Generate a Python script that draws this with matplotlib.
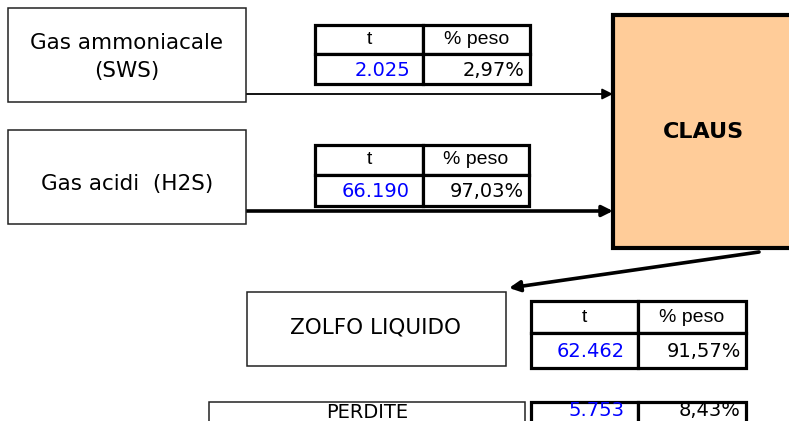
import matplotlib.pyplot as plt
from matplotlib.patches import Rectangle

# feed streams into the Claus unit
feed_names = ["Gas ammoniacale\n(SWS)", "Gas acidi  (H2S)"]
feed_tonnes = [2025, 66190]
feed_pct = [2.97, 97.03]

# products out of the Claus unit
out_names = ["ZOLFO LIQUIDO", "PERDITE"]
out_tonnes = [62462, 5753]
out_pct = [91.57, 8.43]

col_heads = ["t", "% peso"]


def fmt_t(v):
    return f"{v:,}".replace(",", ".")


def fmt_pct(p):
    return f"{p:.2f}%".replace(".", ",")


def box(ax, x0, y0, x1, y1, lw=1.1, ec="#222222", fc="white", z=2):
    ax.add_patch(Rectangle((x0, y0), x1 - x0, y1 - y0, lw=lw, ec=ec, fc=fc, zorder=z))


def table(ax, x0, xm, x1, rows_y, values, header=True, yval=None):
    # rows_y: list of row edges top -> bottom
    for i in range(len(rows_y) - 1):
        box(ax, x0, rows_y[i], xm, rows_y[i + 1], lw=2.3, ec="black", z=3)
        box(ax, xm, rows_y[i], x1, rows_y[i + 1], lw=2.3, ec="black", z=3)
    r = 0
    if header:
        yc = (rows_y[0] + rows_y[1]) / 2
        ax.text((x0 + xm) / 2, yc, col_heads[0], ha="center", va="center",
                fontsize=14, family="Liberation Sans", zorder=4)
        ax.text((xm + x1) / 2, yc, col_heads[1], ha="center", va="center",
                fontsize=14, family="Liberation Sans", zorder=4)
        r = 1
    yc = (rows_y[r] + rows_y[r + 1]) / 2 + 1 if yval is None else yval
    ax.text(xm - 13, yc, fmt_t(values[0]), ha="right", va="center",
            fontsize=14, color="#0000FF", zorder=4)
    ax.text(x1 - 5, yc, fmt_pct(values[1]), ha="right", va="center",
            fontsize=14, zorder=4)


fig = plt.figure(figsize=(7.89, 4.21), dpi=100)
ax = fig.add_axes([0, 0, 1, 1])
ax.set_xlim(0, 789)
ax.set_ylim(421, 0)
ax.axis("off")

# CLAUS unit
box(ax, 613, 15, 800, 248, lw=3.0, ec="black", fc="#FFCC99", z=2)
ax.text(703, 132, "CLAUS", ha="center", va="center", fontsize=16,
        fontweight="bold", zorder=4)

# feed boxes
box(ax, 8, 8, 246, 102)
ax.text(127, 57, feed_names[0], ha="center", va="center", fontsize=15.5,
        linespacing=1.45, zorder=4)
box(ax, 8, 130, 246, 224)
ax.text(127, 184, feed_names[1], ha="center", va="center", fontsize=15.5, zorder=4)

# feed arrows
arrow_thin = dict(arrowstyle="-|>", lw=1.3, color="black", mutation_scale=16,
                  shrinkA=0, shrinkB=0)
arrow_thick = dict(arrowstyle="-|>", lw=2.6, color="black", mutation_scale=16,
                   shrinkA=0, shrinkB=0)
ax.annotate("", xy=(613, 94), xytext=(246, 94), arrowprops=arrow_thin, zorder=1)
ax.annotate("", xy=(613, 211), xytext=(246, 211), arrowprops=arrow_thick, zorder=1)

# feed tables
table(ax, 315, 423, 530, [25, 54, 84], [feed_tonnes[0], feed_pct[0]])
table(ax, 315, 423, 529, [145, 175, 206], [feed_tonnes[1], feed_pct[1]])

# outlet arrow
ax.annotate("", xy=(509, 288), xytext=(759, 252), arrowprops=arrow_thick, zorder=1)

# products
box(ax, 247, 292, 506, 366)
ax.text(376, 327, out_names[0], ha="center", va="center", fontsize=15.5, zorder=4)
table(ax, 531, 638, 746, [301, 333, 368], [out_tonnes[0], out_pct[0]])

box(ax, 209, 402, 525, 440)
ax.text(367, 412, out_names[1], ha="center", va="center", fontsize=14, zorder=4)
table(ax, 531, 638, 746, [402, 440], [out_tonnes[1], out_pct[1]], header=False,
      yval=411)

fig.savefig("out.png", dpi=100)
